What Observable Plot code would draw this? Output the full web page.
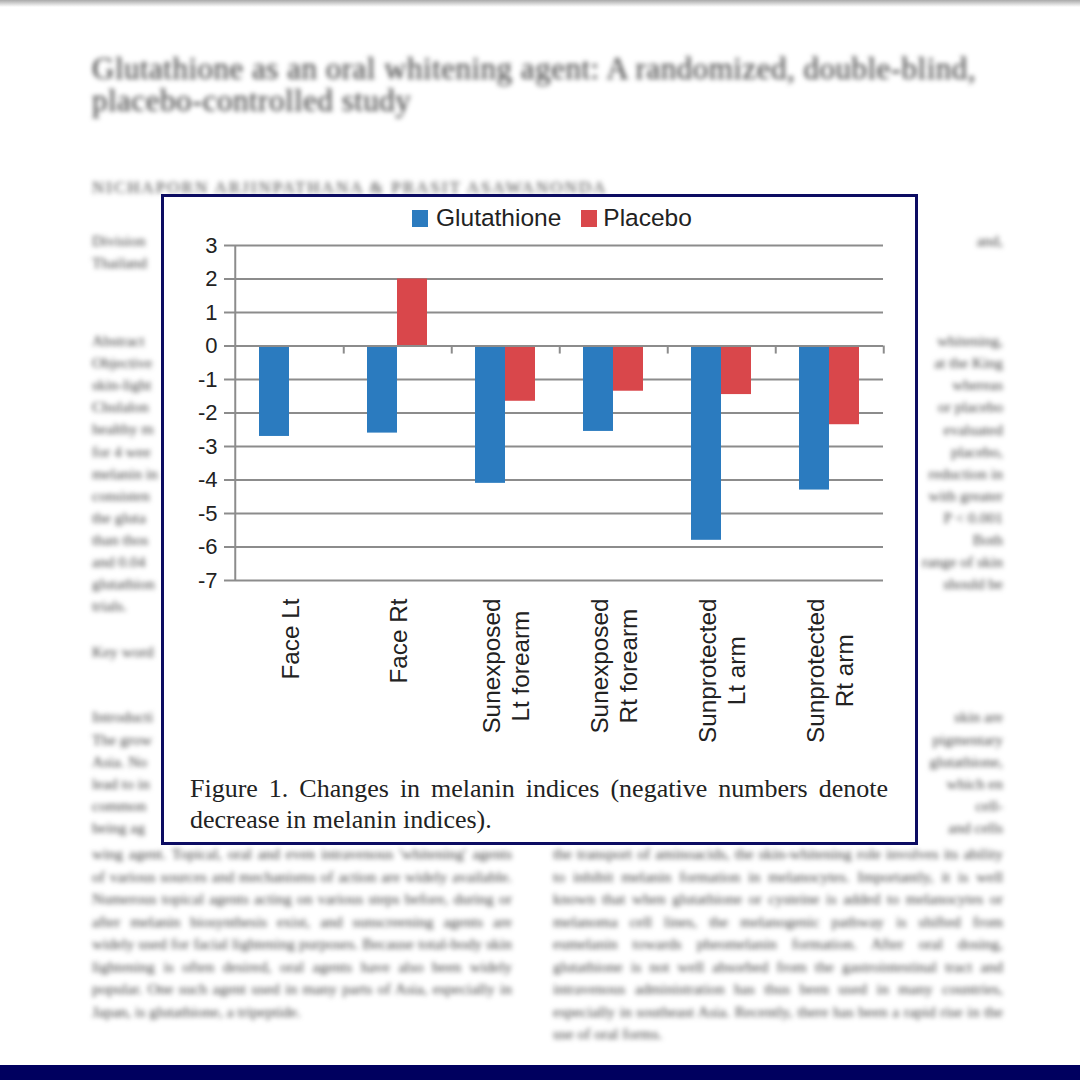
<!DOCTYPE html>
<html>
<head>
<meta charset="utf-8">
<script src="https://cdn.jsdelivr.net/npm/d3@7"></script>
<script src="https://cdn.jsdelivr.net/npm/@observablehq/plot@0.6"></script>
<style>
  html, body { margin: 0; padding: 0; }
  body { width: 1080px; height: 1080px; position: relative; overflow: hidden; background: #ffffff; }
  .blur { position: absolute; filter: blur(2.6px); color: #3c3c3c; font-family: "Liberation Serif", "Times New Roman", serif; font-size: 15.5px; line-height: 22px; white-space: nowrap; }
  .para { text-align: justify; line-height: 22.5px; overflow: hidden; white-space: normal; }
  #topshade { position: absolute; left: 0; top: 0; width: 1080px; height: 7px; background: linear-gradient(#a9a9a9, #ffffff); }
  #bottombar { position: absolute; left: 0; top: 1065px; width: 1080px; height: 15px; background: #00005f; }
  #frame { position: absolute; left: 161px; top: 194px; width: 751px; height: 645px; border: 3px solid #0c0c62; background: #ffffff; }
  #legend { position: absolute; left: 412px; top: 203px; height: 30px; display: flex; align-items: center; font-family: "Liberation Sans", Arial, sans-serif; font-size: 24.5px; color: #222; }
  .sw { width: 16px; height: 17px; display: inline-block; }
  #chart { position: absolute; left: 164px; top: 230px; }
  #caption { position: absolute; left: 190px; top: 773px; width: 698px; font-family: "Liberation Serif", "Times New Roman", serif; font-size: 26px; line-height: 31px; color: #222; text-align: justify; text-align-last: left; }
</style>
</head>
<body>
<div id="topshade"></div>

<div class="blur" style="left:92px; top:53px; font-size:31px; line-height:32px; letter-spacing:0.5px; color:#333;">Glutathione as an oral whitening agent: A randomized, double-blind,<br>placebo-controlled study</div>
<div class="blur" style="left:92px; top:177px; font-size:17px; letter-spacing:2px; color:#444;">NICHAPORN ARJINPATHANA &amp; PRASIT ASAWANONDA</div>
<div id="margins"></div>
<div class="blur para" style="left:92px; top:843px; width:420px; height:225px;">wing agent. Topical, oral and even intravenous 'whitening' agents of various sources and mechanisms of action are widely available. Numerous topical agents acting on various steps before, during or after melanin biosynthesis exist, and sunscreening agents are widely used for facial lightening purposes. Because total-body skin lightening is often desired, oral agents have also been widely popular. One such agent used in many parts of Asia, especially in Japan, is glutathione, a tripeptide.</div>
<div class="blur para" style="left:553px; top:843px; width:450px; height:225px;">the transport of aminoacids, the skin-whitening role involves its ability to inhibit melanin formation in melanocytes. Importantly, it is well known that when glutathione or cysteine is added to melanocytes or melanoma cell lines, the melanogenic pathway is shifted from eumelanin towards pheomelanin formation. After oral dosing, glutathione is not well absorbed from the gastrointestinal tract and intravenous administration has thus been used in many countries, especially in southeast Asia. Recently, there has been a rapid rise in the use of oral forms.</div>

<div id="frame"></div>
<div id="legend">
  <span class="sw" style="background:#2b7bbf;"></span><span style="margin-left:8px;">Glutathione</span>
  <span class="sw" style="background:#d9474b; margin-left:20px;"></span><span style="margin-left:6px;">Placebo</span>
</div>
<div id="chart"></div>
<div id="caption">Figure 1. Changes in melanin indices (negative numbers denote decrease in melanin indices).</div>
<div id="bottombar"></div>

<script>
// ---- chart data ----
const categories = ["Face Lt", "Face Rt", "Sunexposed\nLt forearm", "Sunexposed\nRt forearm", "Sunprotected\nLt arm", "Sunprotected\nRt arm"];
const series = ["Glutathione", "Placebo"];
const glutathione = [-2.7, -2.6, -4.1, -2.55, -5.8, -4.3];
const placebo = [0, 2.0, -1.65, -1.35, -1.45, -2.35];
const yTicks = [3, 2, 1, 0, -1, -2, -3, -4, -5, -6, -7];
const seriesColors = ["#2b7bbf", "#d9474b"];

// ---- blurred page text visible in the margins beside the figure ----
const leftMargin = [[241, "Division"], [263, "Thailand"], [341, "Abstract"], [363, "Objective"], [385, "skin-light"], [407, "Chulalon"], [429, "healthy m"], [452, "for 4 wee"], [474, "melanin in"], [496, "consisten"], [518, "the gluta"], [540, "than thos"], [562, "and 0.04"], [584, "glutathion"], [606, "trials."], [652, "Key word"], [717, "Introducti"], [740, "The grow"], [762, "Asia. No"], [784, "lead to in"], [806, "common"], [828, "being ag"]];
const rightMargin = [[241, "and,"], [341, "whitening,"], [363, "at the King"], [385, "whereas"], [407, "or placebo"], [430, "evaluated"], [452, "placebo,"], [474, "reduction in"], [496, "with greater"], [518, "P < 0.001"], [540, "Both"], [562, "range of skin"], [584, "should be"], [717, "skin are"], [740, "pigmentary"], [762, "glutathione,"], [784, "which en"], [806, "cell-"], [828, "and cells"]];
const marginsDiv = document.getElementById("margins");
for (const [y, t] of leftMargin) {
  const d = document.createElement("div");
  d.className = "blur"; d.textContent = t;
  d.style.left = "92px"; d.style.top = (y - 11) + "px";
  marginsDiv.appendChild(d);
}
for (const [y, t] of rightMargin) {
  const d = document.createElement("div");
  d.className = "blur"; d.textContent = t;
  d.style.right = (1080 - 1003) + "px"; d.style.top = (y - 11) + "px";
  marginsDiv.appendChild(d);
}

// ---- chart ----
const data = categories.flatMap((c, i) => [
  {category: c, series: series[0], value: glutathione[i]},
  {category: c, series: series[1], value: placebo[i]}
]);

const width = 750, height = 525;
const marginLeft = 69, marginRight = 30, marginTop = 15, marginBottom = 175;
const step = (width - marginLeft - marginRight) / categories.length;
const gridColor = "#8c8c8c";
const labelSize = 24.3;
const labelFont = "'Liberation Sans', Arial, sans-serif";
const ctx = document.createElement("canvas").getContext("2d");
ctx.font = `${labelSize}px ${labelFont}`;
const labelLength = c => d3.max(c.split("\n"), s => ctx.measureText(s).width);

const chart = Plot.plot({
  width, height, marginLeft, marginRight, marginTop, marginBottom,
  style: {fontFamily: labelFont, color: "#222", background: "transparent", overflow: "visible"},
  fx: {domain: categories, padding: 0, label: null, axis: null},
  x: {domain: series, paddingInner: 0, paddingOuter: 0.75, axis: null},
  y: {domain: [-7, 3], label: null},
  color: {domain: series, range: seriesColors},
  marks: [
    Plot.ruleY(yTicks, {stroke: gridColor, strokeWidth: 2}),
    Plot.barY(data, {fx: "category", x: "series", y: "value", fill: "series"}),
    Plot.ruleY([0], {stroke: gridColor, strokeWidth: 2}),
    Plot.ruleX(categories, {fx: d => d, x: null, y1: 0, y2: -0.24, dx: step / 2, stroke: gridColor, strokeWidth: 2}),
    Plot.ruleX([categories[0]], {fx: d => d, x: null, y1: -7, y2: 3, dx: -step / 2, stroke: gridColor, strokeWidth: 2}),
    Plot.axisY({ticks: yTicks, tickSize: 11, tickPadding: 7, stroke: gridColor, strokeWidth: 2, fill: "#222", fontSize: 22, tickFormat: d => String(d), label: null}),
    ...categories.map(c => Plot.text([c], {
      fx: d => d, text: d => d, frameAnchor: "bottom", rotate: -90,
      textAnchor: "middle", lineAnchor: "middle", lineHeight: 1.2,
      fontSize: labelSize, fill: "#222", dy: 18 + labelLength(c) / 2
    }))
  ]
});
document.getElementById("chart").appendChild(chart);
</script>
</body>
</html>
